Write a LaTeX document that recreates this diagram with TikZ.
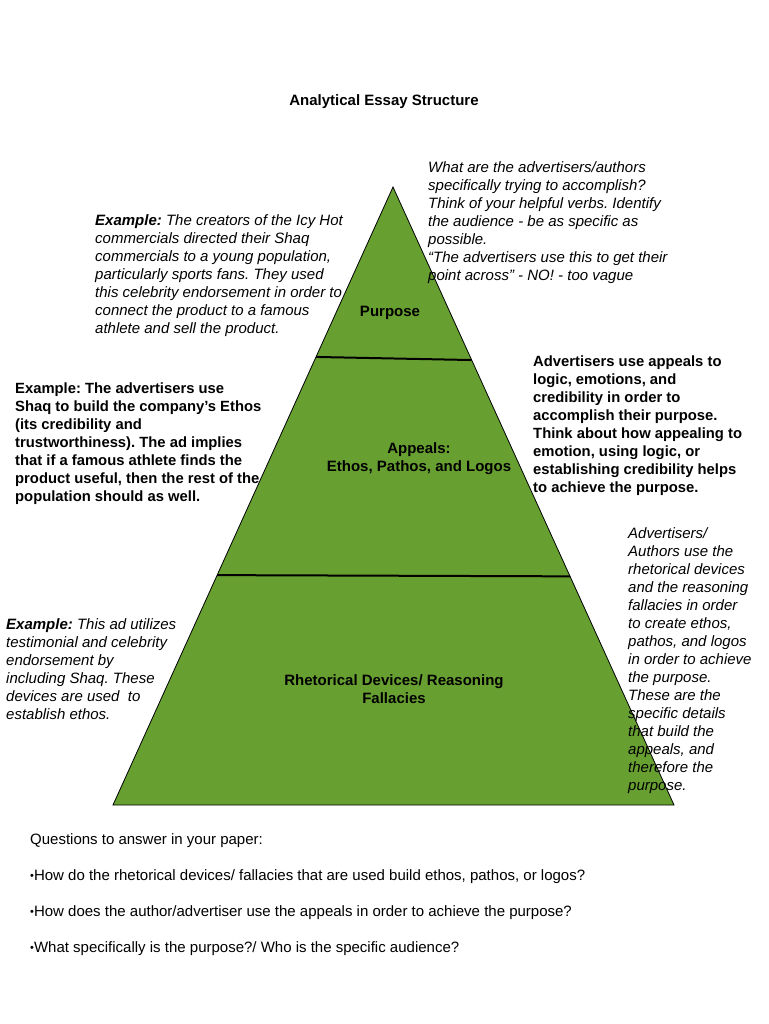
\documentclass[tikz,border=0pt]{standalone}
\usepackage{fontspec}
\setmainfont{Liberation Sans}
\usetikzlibrary{calc}
\definecolor{pyramid}{RGB}{103,160,49}
\frenchspacing
\newcommand{\qdot}{{\fontsize{11}{11}\selectfont\raisebox{1.5pt}{•}}}

\begin{document}
\begin{tikzpicture}[
        x=1pt, y=-1pt,
        note/.style={
            anchor=north west,
            inner sep=0pt,
            align=left,
            font=\fontsize{15}{18}\selectfont\itshape
        },
        boldnote/.style={
            note,
            font=\fontsize{14.8}{18}\selectfont\bfseries
        },
        level/.style={
            inner sep=0pt,
            align=center,
            font=\fontsize{15}{18}\selectfont\bfseries
        },
        question/.style={
            anchor=west,
            inner sep=0pt,
            font=\fontsize{15}{18}\selectfont
        },
        divider/.style={line width=2pt, draw=black}
    ]
    \useasboundingbox (0,0) rectangle (768,1024);

    % pyramid
    \coordinate (apex) at (393,187);
    \coordinate (bl) at (113,805);
    \coordinate (br) at (674,805);
    \filldraw [fill=pyramid, draw=black, line width=0.8pt] (apex) -- (bl) -- (br) -- cycle;
    \draw [divider] ($(apex)!0.275!(bl)$) -- ($(apex)!0.28!(br)$);
    \draw [divider] ($(apex)!0.628!(bl)$) -- ($(apex)!0.63!(br)$);

    \node (title) [level] at (384,102) {Analytical Essay Structure};

    % levels
    \node (purpose) [level] at (390,313) {Purpose};
    \node (appeals) [level] at (419,459) {Appeals:\\Ethos, Pathos, and Logos};
    \node (devices) [level] at (394,689) {Rhetorical Devices/ Reasoning\\Fallacies};

    % notes beside the pyramid
    \node (purposeq) [note] at (428,161) {What are the advertisers/authors\\
        specifically trying to accomplish?\\
        Think of your helpful verbs. Identify\\
        the audience - be as specific as\\
        possible.\\
        ``The advertisers use this to get their\\
        point across'' - NO! - too vague};
    \node (purposeex) [note] at (95,214) {\textbf{Example:} The creators of the Icy Hot\\
        commercials directed their Shaq\\
        commercials to a young population,\\
        particularly sports fans. They used\\
        this celebrity endorsement in order to\\
        connect the product to a famous\\
        athlete and sell the product.};
    \node (appealsex) [boldnote] at (15,383) {Example: The advertisers use\\
        Shaq to build the company's Ethos\\
        (its credibility and\\
        trustworthiness). The ad implies\\
        that if a famous athlete finds the\\
        product useful, then the rest of the\\
        population should as well.};
    \node (appealsq) [boldnote] at (533,356) {Advertisers use appeals to\\
        logic, emotions, and\\
        credibility in order to\\
        accomplish their purpose.\\
        Think about how appealing to\\
        emotion, using logic, or\\
        establishing credibility helps\\
        to achieve the purpose.};
    \node (devicesex) [note] at (6,618) {\textbf{Example:} This ad utilizes\\
        testimonial and celebrity\\
        endorsement by\\
        including Shaq. These\\
        devices are used\ \ to\\
        establish ethos.};
    \node (devicesq) [note] at (628,527) {Advertisers/\\
        Authors use the\\
        rhetorical devices\\
        and the reasoning\\
        fallacies in order\\
        to create ethos,\\
        pathos, and logos\\
        in order to achieve\\
        the purpose.\\
        These are the\\
        specific details\\
        that build the\\
        appeals, and\\
        therefore the\\
        purpose.};

    % questions
    \node (qhead) [question] at (30,841) {Questions to answer in your paper:};
    \node (q1) [question] at (30,877) {\qdot How do the rhetorical devices/ fallacies that are used build ethos, pathos, or logos?};
    \node (q2) [question] at (30,913) {\qdot How does the author/advertiser use the appeals in order to achieve the purpose?};
    \node (q3) [question] at (30,949) {\qdot What specifically is the purpose?/ Who is the specific audience?};
\end{tikzpicture}
\end{document}
